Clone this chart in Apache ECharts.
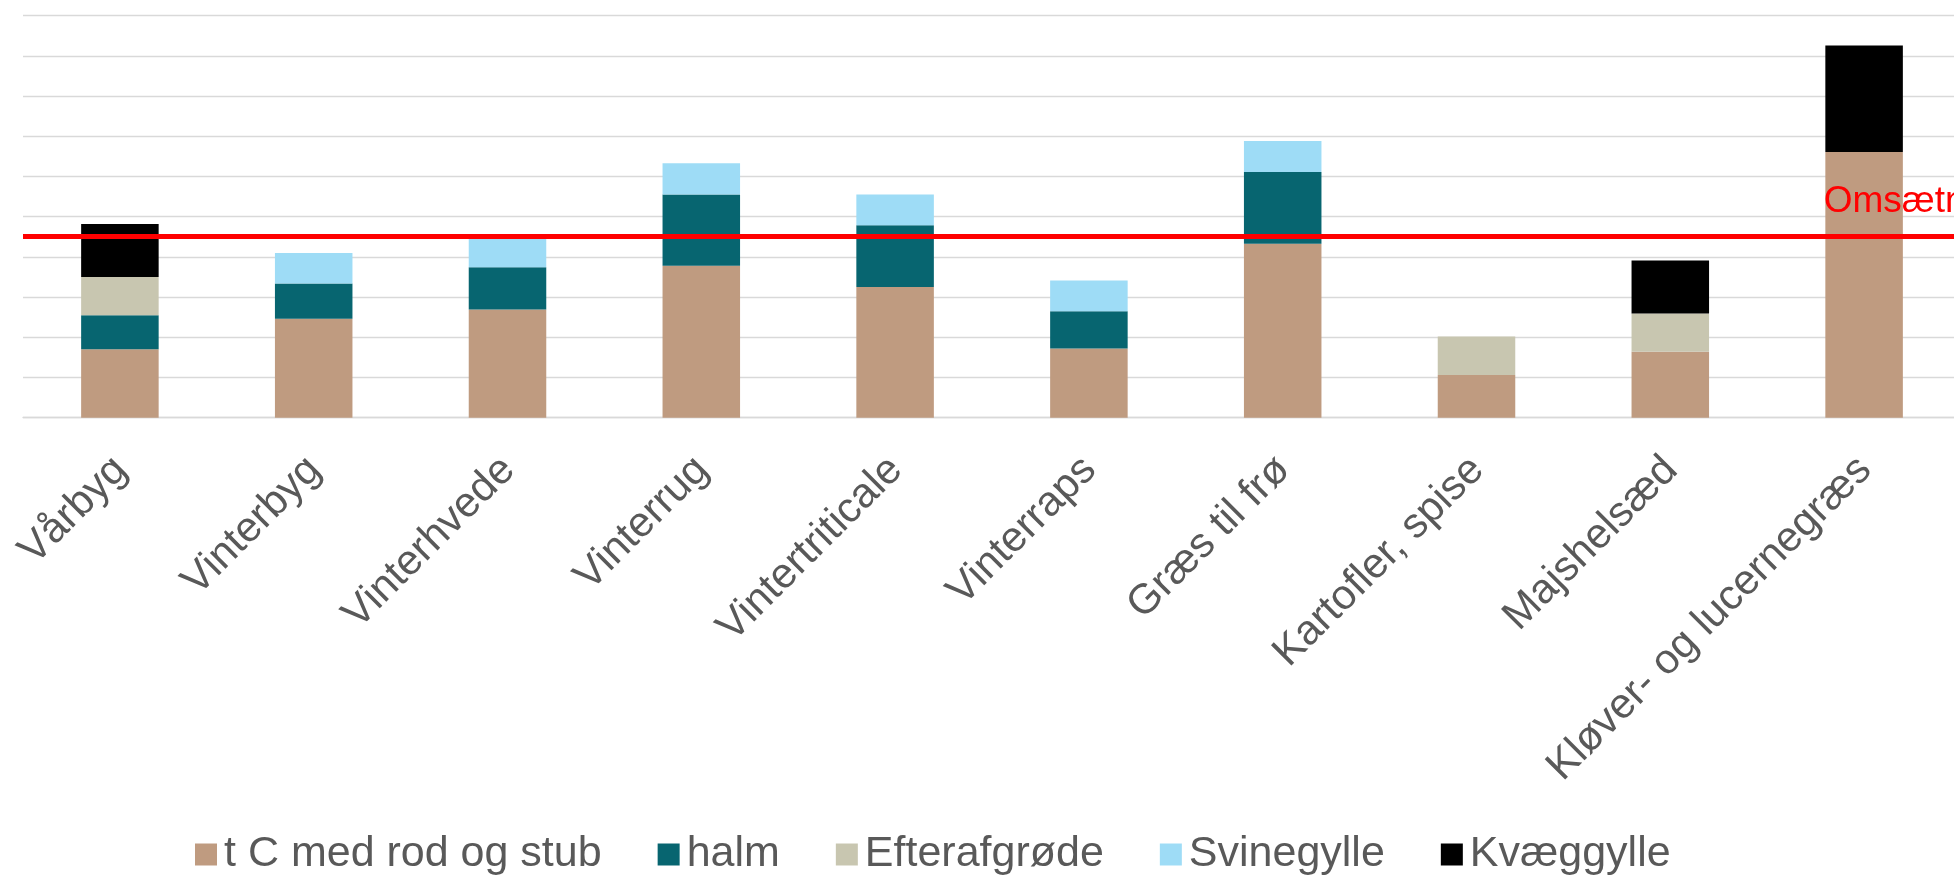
<!DOCTYPE html>
<html>
<head>
<meta charset="utf-8">
<script src="https://cdn.jsdelivr.net/npm/echarts@6/dist/echarts.min.js"></script>
<style>
  html, body { margin: 0; padding: 0; background: #fff; overflow: hidden; }
  #chart { width: 1970px; height: 875px; }
</style>
</head>
<body>
<div id="chart"></div>
<script>
// afgrøder
var categories = ['Vårbyg', 'Vinterbyg', 'Vinterhvede', 'Vinterrug', 'Vintertriticale',
	'Vinterraps', 'Græs til frø', 'Kartofler, spise', 'Majshelsæd', 'Kløver- og lucernegræs'];

// bidrag pr. kilde (aflæst i gitterenheder)
var rodStub     = [1.70, 2.46, 2.69, 3.78, 3.25, 1.72, 4.33, 1.06, 1.64, 6.61];
var halm        = [0.85, 0.88, 1.05, 1.77, 1.54, 0.93, 1.78, 0, 0, 0];
var efterafgrode = [0.95, 0, 0, 0, 0, 0, 0, 0.96, 0.95, 0];
var svinegylle  = [0, 0.76, 0.74, 0.78, 0.76, 0.76, 0.77, 0, 0, 0];
var kvaeggylle  = [1.32, 0, 0, 0, 0, 0, 0, 0, 1.32, 2.65];

var omsaetning = 4.51;

var fontFam = '"Liberation Sans", Arial, Helvetica, sans-serif';

// plotområdet går lidt ud over vinduets højre kant, derfor er div'en bredere end vinduet
var myChart = echarts.init(document.getElementById('chart'));

function bar(name, data, color) {
	return {
		name: name,
		type: 'bar',
		stack: 'total',
		barWidth: '40%',
		data: data,
		itemStyle: { color: color },
		emphasis: { disabled: true }
	};
}

var series = [
	bar('t C med rod og stub', rodStub, '#BF9B80'),
	bar('halm', halm, '#076570'),
	bar('Efterafgrøde', efterafgrode, '#C8C6B0'),
	bar('Svinegylle', svinegylle, '#9EDCF6'),
	bar('Kvæggylle', kvaeggylle, '#000000')
];

// omsætningslinje
series[4].markLine = {
	silent: true,
	symbol: 'none',
	lineStyle: { color: '#FF0000', width: 5, type: 'solid' },
	label: {
		show: true,
		position: 'insideEndTop',
		formatter: 'Omsætning',
		color: '#FF0000',
		fontSize: 37,
		fontFamily: fontFam,
		offset: [59, -11]
	},
	data: [{ yAxis: omsaetning }]
};

var option = {
	animation: false,
	textStyle: { fontFamily: fontFam },
	grid: { left: 23, top: 15.7, width: 1938, height: 402 },
	legend: {
		left: 190,
		top: 828,
		icon: 'rect',
		itemWidth: 22,
		itemHeight: 22,
		itemGap: 56,
		selectedMode: false,
		textStyle: { fontSize: 43, color: '#595959', fontFamily: fontFam, padding: [0, 0, 0, 2] },
		data: series.map(function (s) { return s.name; })
	},
	xAxis: {
		type: 'category',
		data: categories,
		axisLine: { lineStyle: { color: '#D9D9D9', width: 1.3 } },
		axisTick: { show: false },
		axisLabel: {
			rotate: 45,
			interval: 0,
			margin: 38,
			align: 'right',
			verticalAlign: 'top',
			lineHeight: 12,
			padding: [0, 5, 0, 0],
			fontSize: 42,
			color: '#595959',
			fontFamily: fontFam
		}
	},
	yAxis: {
		type: 'value',
		min: 0,
		max: 10,
		interval: 1,
		axisLabel: { show: false },
		axisLine: { show: false },
		axisTick: { show: false },
		splitLine: { lineStyle: { color: '#D9D9D9', width: 1.3 } }
	},
	series: series
};

myChart.setOption(option);
</script>
</body>
</html>
